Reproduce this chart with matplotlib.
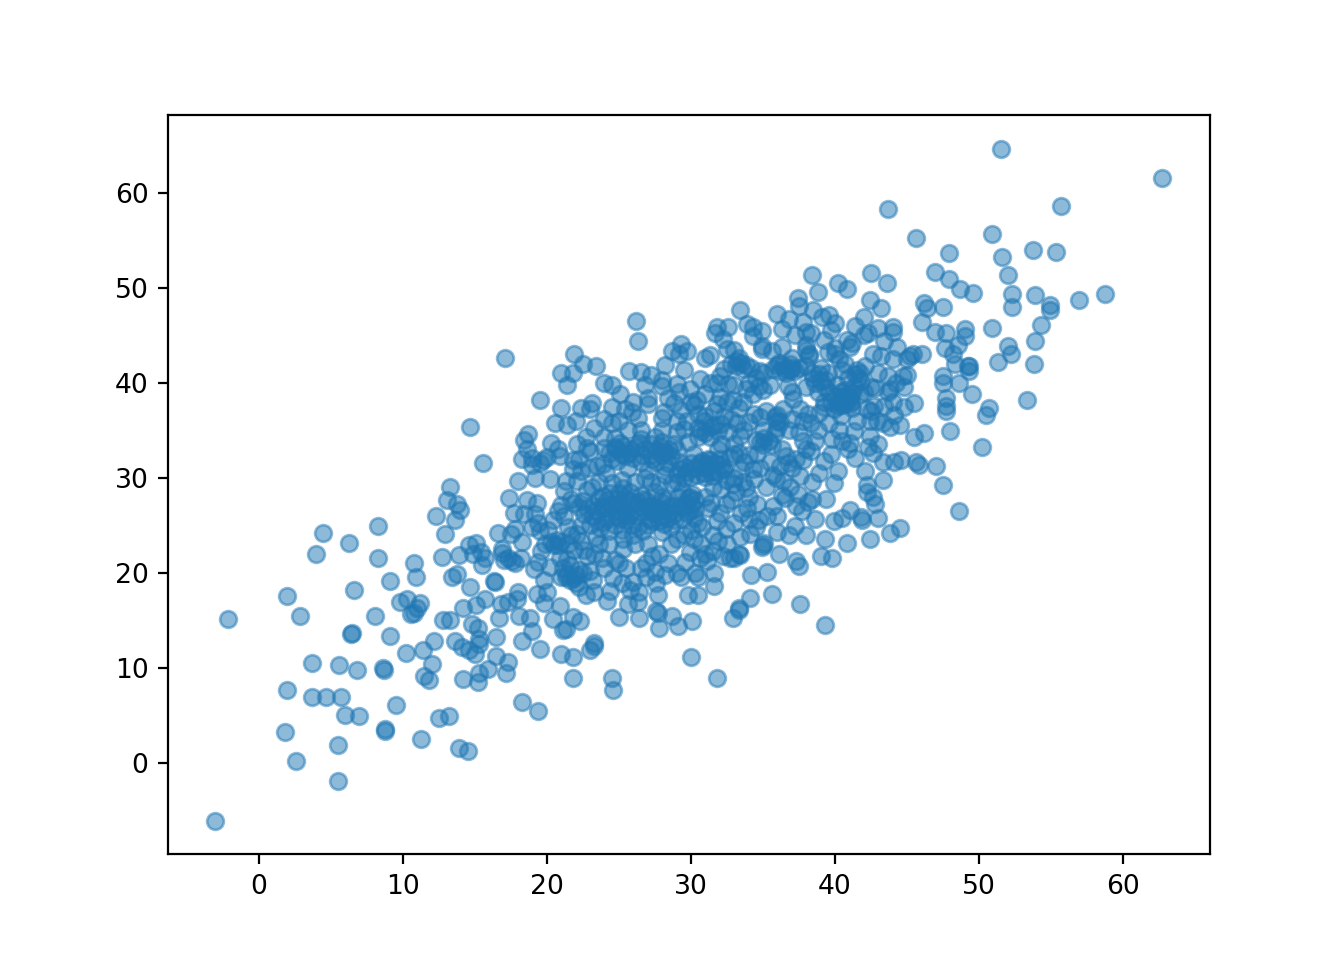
import matplotlib
matplotlib.use("Agg")
import matplotlib.pyplot as plt

low_left = [(-3.0,-6.1),(-2.1,15.1),(1.8,3.2),(2.0,17.6),(2.0,7.7),(2.6,0.2),(2.9,15.4),(3.7,10.5),(3.7,6.9),(4.0,22.0),(4.5,24.2),(4.7,6.9),(5.5,1.9),(5.5,-1.9),(5.6,10.3),(5.7,6.9),(6.0,5.0),(6.3,23.1),(6.4,13.6),(6.5,13.7),(6.6,18.2),(6.8,9.8),(7.0,4.9),(8.1,15.4),(8.3,24.9),(8.3,21.6),(8.6,10.0),(8.7,9.8),(8.8,3.6),(8.8,3.4),(9.1,19.1),(9.1,13.3),(9.5,6.1),(9.8,16.9),(10.2,11.6),(10.3,17.2),(10.6,15.7),(10.8,15.8),(10.8,21.0),(10.9,19.6),(11.0,16.3),(11.2,16.8),(11.3,2.5),(11.4,11.9),(11.5,9.1),(11.8,8.7),(12.0,10.4),(12.2,12.8),(12.3,26.0),(12.5,4.7),(12.7,21.7),(12.8,15.0),(12.9,24.1),(13.1,27.7),(13.2,4.9),(13.3,29.0),(13.3,15.0),(13.4,19.5),(13.6,25.5),(13.6,12.8),(13.8,27.2),(13.8,19.9),(13.9,21.9),(13.9,1.6),(14.0,26.6),(14.1,12.2),(14.2,16.3),(14.2,8.8),(14.5,1.2),(14.6,22.9),(14.6,11.9),(14.7,35.3),(14.7,18.5),(14.8,14.6),(14.9,22.0),(15.0,11.4),(15.1,16.6),(15.1,23.1),(15.2,8.5),(15.2,14.2),(15.3,13.0),(15.3,12.5),(15.3,9.4),(15.4,22.2),(15.5,20.8),(15.6,31.5),(15.7,21.5),(15.7,17.2),(15.9,9.9)]

left_mid = [(16.3,19.1),(16.4,19.0),(16.5,11.2),(16.5,13.2),(16.6,24.2),(16.7,15.2),(16.8,16.7),(16.9,22.1),(17.0,21.3),(17.1,42.6),(17.2,9.4),(17.3,10.6),(17.3,16.9),(17.4,27.9),(17.5,24.1),(17.6,21.2),(17.7,26.3),(17.8,24.6),(17.9,17.2),(18.0,29.7),(18.0,18.0),(18.1,15.4),(18.2,21.5),(18.3,12.8),(18.3,6.4),(18.4,26.2),(18.3,32.0),(18.4,34.0),(18.6,33.0),(18.6,27.6),(18.7,34.6),(18.8,15.2),(19.0,32.1),(19.0,31.3),(19.0,13.9),(19.1,20.4),(19.2,26.2),(19.3,27.3),(19.3,17.8),(19.4,5.5),(19.5,12.0),(19.5,38.2),(19.6,22.3),(19.7,31.9),(19.8,19.2),(19.8,16.8),(20.0,18.0)]

band_20_25 = [(20.1,24.5),(20.2,29.9),(20.3,33.6),(20.4,15.1),(20.5,22.9),(20.6,35.8),(20.7,23.4),(20.8,33.0),(20.9,16.5),(20.9,32.3),(21.0,41.0),(21.0,37.3),(21.0,27.1),(21.0,23.2),(21.0,19.6),(21.0,11.4),(21.1,14.0),(21.2,26.0),(21.3,19.5),(21.3,14.1),(21.4,35.5),(21.4,39.7),(21.5,23.0),(21.6,20.8),(21.6,19.2),(21.7,27.8),(21.7,24.0),(21.8,31.9),(21.8,41.0),(21.8,30.9),(21.8,15.3),(21.8,11.1),(21.8,8.9),(21.9,43.0),(21.9,27.3),(22.0,19.8),(22.0,18.9),(22.1,33.5),(22.1,29.6),(22.1,24.1),(22.2,20.3),(22.3,14.9),(22.5,42.0),(22.6,26.2),(22.6,22.4),(22.7,34.3),(22.7,17.7),(22.8,33.1),(22.8,28.7),(22.8,21.8),(23.0,37.2),(23.0,25.0),(23.0,20.2),(23.0,11.9),(23.1,37.9),(23.1,29.0),(23.2,27.0),(23.2,26.0),(23.3,22.0),(23.3,18.0),(23.3,12.6),(23.3,12.3),(23.4,41.8),(23.4,26.5),(23.5,31.2),(23.6,29.5),(23.7,24.7),(23.8,27.0),(23.9,25.3),(24.0,40.0),(24.0,36.2),(24.1,30.5),(24.2,17.0),(24.2,27.7),(24.3,23.0),(24.4,18.1),(24.5,39.7),(24.5,8.9),(24.6,7.7),(24.7,34.2),(24.8,33.0),(24.9,26.0),(25.0,21.0),(25.0,27.2),(25.0,15.3),(25.1,38.8),(25.2,32.5),(25.3,23.6),(25.4,37.2),(25.4,28.0),(25.5,25.5),(25.6,16.7),(25.7,41.2),(25.8,33.0),(25.9,36.9)]

band_26_30 = [(26.0,26.5),(26.0,19.0),(26.1,29.5),(26.1,23.0),(26.2,46.5),(26.3,44.4),(26.3,27.4),(26.3,16.9),(26.4,18.0),(26.4,15.2),(26.5,41.1),(26.5,35.0),(26.6,32.4),(26.7,27.8),(26.8,39.7),(26.9,21.0),(27.0,37.8),(27.1,25.6),(27.2,33.5),(27.3,32.0),(27.4,26.3),(27.5,20.1),(27.6,16.0),(27.7,17.7),(27.7,15.8),(27.8,14.2),(27.8,22.0),(27.9,26.7),(28.0,36.3),(28.0,39.6),(28.1,36.9),(28.2,41.9),(28.2,32.7),(28.4,25.8),(28.5,33.0),(28.6,23.0),(28.7,43.3),(28.7,29.4),(28.7,15.4),(28.8,37.9),(28.9,27.0),(29.0,30.4),(29.1,14.4),(29.2,43.0),(29.3,44.1),(29.3,37.1),(29.3,19.5),(29.5,41.3),(29.5,35.1),(29.6,31.1),(29.7,43.3),(29.8,27.9),(29.8,17.7),(29.9,26.5),(30.0,24.5),(30.0,11.1),(30.1,14.9),(30.2,37.6),(30.3,27.7),(30.3,20.0),(30.4,30.3),(30.5,17.7),(30.6,40.4),(30.7,34.9),(30.7,23.0)]

band_31_35 = [(31.0,42.6),(31.0,36.5),(31.0,31.0),(31.1,21.2),(31.2,26.8),(31.3,42.9),(31.3,40.0),(31.4,35.3),(31.5,29.0),(31.6,18.6),(31.6,20.0),(31.7,45.2),(31.8,45.9),(31.8,8.9),(32.0,38.5),(32.1,33.5),(32.2,30.8),(32.3,41.4),(32.4,24.6),(32.6,45.8),(32.6,39.9),(32.7,21.5),(32.8,36.2),(32.9,15.2),(33.0,43.4),(33.0,32.5),(33.1,28.5),(33.2,42.3),(33.3,16.1),(33.3,16.3),(33.4,47.6),(33.4,21.9),(33.5,42.1),(33.6,38.0),(33.6,29.5),(33.8,41.9),(33.9,46.2),(34.0,40.0),(34.1,17.3),(34.1,24.1),(34.2,19.8),(34.3,45.8),(34.3,44.9),(34.4,36.7),(34.5,34.0),(34.6,27.2),(34.7,25.5),(34.8,41.2),(34.9,45.4),(34.9,43.5),(34.9,22.7),(35.0,39.2),(35.0,33.4),(35.1,23.1),(35.3,20.1),(35.4,33.9),(35.5,39.7),(35.6,17.8),(35.7,30.3)]

band_36_40 = [(36.0,47.2),(36.0,41.9),(36.0,36.0),(36.0,24.3),(36.1,22.0),(36.2,41.2),(36.3,45.6),(36.4,37.2),(36.5,27.9),(36.6,32.3),(36.8,46.7),(36.8,24.0),(36.9,41.3),(37.0,42.6),(37.1,38.3),(37.2,45.0),(37.2,24.9),(37.3,21.2),(37.4,48.9),(37.4,28.3),(37.5,48.1),(37.5,41.5),(37.5,20.7),(37.6,16.7),(37.7,26.5),(37.8,33.9),(38.0,45.3),(38.0,39.5),(38.0,33.0),(38.0,24.0),(38.1,36.7),(38.2,43.0),(38.3,45.2),(38.3,35.8),(38.4,51.3),(38.4,27.8),(38.5,47.6),(38.6,33.9),(38.6,25.7),(38.8,49.5),(38.9,30.5),(39.0,21.8),(39.1,46.9),(39.2,38.0),(39.3,14.5),(39.3,23.5),(39.4,27.8),(39.5,41.0),(39.6,47.1),(39.7,45.5),(39.8,21.6),(39.9,29.4),(39.9,25.4),(40.0,43.0),(40.1,39.7),(40.2,50.5),(40.2,30.7),(40.4,36.5),(40.5,33.9),(40.5,25.8),(40.8,49.9),(40.8,44.5),(40.8,38.0),(40.8,23.1),(41.0,26.6)]

band_41_46 = [(41.0,43.8),(41.2,44.2),(41.2,37.3),(41.3,34.9),(41.4,32.1),(41.5,41.3),(41.7,38.8),(41.8,40.2),(41.8,25.9),(41.9,25.5),(42.0,46.9),(42.0,45.0),(42.1,41.8),(42.1,30.7),(42.2,29.2),(42.2,28.5),(42.3,45.2),(42.4,48.7),(42.4,36.0),(42.4,34.4),(42.4,23.6),(42.5,51.5),(42.5,37.0),(42.6,32.6),(42.6,28.0),(42.7,37.5),(42.8,39.4),(42.8,27.2),(43.0,45.7),(43.0,25.8),(43.2,47.9),(43.2,42.8),(43.3,29.8),(43.3,31.6),(43.6,50.5),(43.7,58.3),(43.7,40.7),(43.7,39.0),(43.8,35.3),(43.8,24.2),(44.0,45.3),(44.0,45.9),(44.0,42.5),(44.1,36.6),(44.1,31.7),(44.2,40.0),(44.3,43.7),(44.5,24.7),(44.5,35.5),(44.6,31.9),(44.7,40.7),(44.8,37.4),(45.0,42.5),(45.2,42.8),(45.4,43.0),(45.5,37.9),(45.5,34.3),(45.6,31.6),(45.6,55.2),(45.8,31.3),(46.0,43.0),(46.0,46.4),(46.2,48.4),(46.2,34.7),(46.4,47.8)]

upper_right = [(46.9,51.6),(46.9,45.3),(47.0,31.2),(47.5,40.7),(47.5,40.0),(47.5,29.2),(47.5,48.0),(47.6,43.6),(47.7,45.2),(47.7,38.4),(47.7,37.5),(47.7,37.0),(47.9,53.6),(47.9,50.9),(48.0,34.9),(48.2,43.0),(48.3,42.0),(48.5,44.0),(48.6,40.0),(48.6,26.5),(48.7,49.8),(49.0,44.9),(49.0,45.6),(49.2,41.8),(49.3,41.8),(49.3,41.2),(49.5,38.8),(49.6,49.4),(50.2,33.2),(50.5,36.6),(50.7,37.3),(50.9,55.6),(50.9,45.7),(51.3,42.2),(51.5,64.6),(51.6,53.2),(52.0,43.9),(52.0,51.3),(52.3,49.3),(52.3,48.0),(52.2,43.0),(53.3,38.2),(53.7,54.0),(53.8,42.0),(53.9,44.4),(53.9,49.2),(54.3,46.1),(54.9,48.2),(54.9,47.6),(55.3,53.7),(55.7,58.6),(56.9,48.7),(58.7,49.3),(62.7,61.5)]

core_low = [(23.5,25.5),(23.9,28.1),(24.1,26.4),(24.5,27.1),(24.7,25.0),(25.0,28.4),(25.2,26.8),(25.6,27.6),(25.9,25.0),(26.2,26.0),(26.5,28.2),(26.8,26.5),(27.0,25.0),(27.3,27.0),(27.5,28.5),(27.8,25.4),(28.0,26.0),(28.3,27.6),(28.6,24.8),(28.9,25.5),(29.4,28.6),(29.7,26.3),(30.1,28.3),(30.3,26.7),(30.5,25.2),(26.0,24.0),(24.3,24.4),(25.3,22.5),(27.0,23.0),(29.0,23.5),(30.8,24.8),(31.5,24.0),(32.0,26.3),(32.8,27.7),(33.5,26.3),(34.0,28.0),(28.0,28.0),(29.5,24.0)]

core_mid = [(24.3,32.6),(24.7,33.2),(25.1,33.7),(25.4,32.3),(25.6,31.0),(26.2,33.2),(26.5,31.6),(27.0,30.8),(27.6,32.9),(27.9,33.2),(28.0,32.4),(28.4,31.5),(28.8,33.5),(29.0,29.5),(29.2,31.7),(29.5,30.0),(29.8,33.8),(30.0,31.5),(30.2,32.5),(30.5,34.3),(30.8,31.8),(31.0,30.1),(31.2,32.0),(31.4,30.7),(31.7,31.5),(31.9,33.0),(32.1,31.3),(32.4,29.8),(32.6,34.8),(33.0,30.0),(33.3,32.6),(33.7,31.7),(34.0,32.4),(30.9,36.0),(30.5,35.2),(31.6,37.0),(31.8,37.8),(32.3,36.5),(32.9,38.2),(33.3,37.3),(33.8,39.3),(34.3,38.8),(34.7,39.6),(35.2,37.0),(35.8,34.7),(36.0,35.2),(36.3,33.0),(36.7,31.5),(37.0,31.0),(37.3,32.0),(34.8,31.0),(35.2,29.0),(35.7,27.0),(36.0,26.0),(36.3,28.2),(36.9,29.0),(37.3,27.0),(38.1,27.4)]

core_high = [(38.5,40.5),(38.8,39.0),(39.0,41.5),(39.3,39.5),(39.4,40.3),(39.7,38.0),(39.9,37.2),(40.2,37.5),(40.4,39.0),(40.5,38.5),(40.6,37.9),(40.7,39.2),(41.0,38.5),(41.1,38.0),(40.5,41.3),(40.0,43.6),(40.3,42.5),(40.7,42.0),(40.9,40.5),(41.3,39.5),(39.5,43.2),(38.0,43.4),(38.2,42.8),(38.0,41.7),(37.0,41.5),(36.5,41.4),(37.2,41.2),(36.7,39.6),(37.0,39.0),(38.0,44.0),(42.5,39.5),(43.0,41.0),(44.0,38.0),(43.8,39.3),(43.3,35.8)]

fill_left = [(20.0,32.2),(19.5,31.5),(19.2,30.0),(19.4,25.2),(19.5,24.4),(19.9,23.0),(20.3,23.2),(20.8,22.9),(21.1,20.5),(21.4,19.9),(21.9,19.4),(22.2,18.5),(16.9,22.5),(17.3,21.5),(17.8,21.0),(18.3,23.2),(19.0,24.8),(19.4,21.1),(21.4,21.4),(24.0,20.5),(24.7,21.3),(25.5,20.5),(26.5,20.5),(27.3,21.8),(28.2,19.8),(29.0,20.0),(29.6,21.1),(30.5,19.5),(31.0,22.0),(31.5,22.3),(32.2,21.8),(33.0,21.5),(33.3,22.0),(33.4,23.8),(34.0,25.7),(34.5,24.8),(35.0,22.9),(35.3,26.0),(22.0,36.0),(22.9,31.0),(23.0,32.8),(24.0,34.3),(24.5,35.8),(25.0,36.0),(26.0,38.0),(27.5,34.3),(28.0,35.0),(29.0,34.8),(29.0,36.0),(30.0,38.0),(30.4,38.2),(28.4,38.4),(27.0,38.4)]

blob_low = [(23.6,27.9),(24.0,26.8),(24.2,25.6),(24.4,28.4),(24.8,26.5),(24.9,27.8),(25.1,25.6),(25.3,28.9),(25.5,26.4),(25.7,26.1),(25.8,28.5),(26.0,27.3),(26.3,24.8),(26.6,26.9),(26.9,27.6),(27.1,26.9),(27.3,25.4),(27.6,26.7),(27.9,27.4),(28.1,25.1),(28.4,26.4),(28.6,27.0),(28.8,26.2),(29.1,28.0),(29.3,26.9),(29.6,27.2),(29.9,28.0),(30.0,27.1),(29.4,25.6),(28.0,24.3),(26.7,24.4),(25.2,24.5),(22.8,26.8),(22.5,27.5),(22.4,25.0),(23.4,23.8),(23.6,23.0),(30.2,23.5),(31.8,25.4),(32.4,27.2),(33.0,25.2),(33.9,26.8)]

blob_mid = [(24.0,33.1),(24.5,32.0),(24.9,31.8),(25.3,33.3),(25.7,32.6),(26.0,32.1),(26.4,33.6),(26.8,33.0),(27.2,32.4),(27.6,31.6),(28.0,33.8),(28.2,31.1),(28.6,32.3),(29.0,32.9),(29.3,30.9),(29.7,30.6),(30.0,30.1),(30.3,31.0),(30.6,31.5),(30.9,30.5),(31.1,31.4),(31.3,31.9),(31.5,30.2),(31.8,30.6),(32.0,32.0),(32.3,31.0),(32.7,32.2),(33.0,33.5),(33.4,34.4),(33.7,35.0),(31.0,34.7),(31.3,34.3),(31.6,35.5),(31.9,34.9),(32.1,35.6),(30.5,36.7),(29.7,36.0),(34.8,33.8),(35.1,34.2),(35.6,33.4),(35.0,35.0),(36.0,36.6),(35.8,36.4),(36.2,35.9),(33.5,30.8),(34.4,29.9),(37.8,31.9),(38.3,32.8)]

blob_high = [(32.8,42.0),(33.1,41.7),(33.3,42.6),(33.6,41.4),(35.7,41.4),(36.1,42.1),(36.4,41.9),(36.6,41.0),(36.9,42.0),(38.4,41.0),(38.6,40.0),(38.9,40.9),(39.0,40.2),(39.2,37.4),(39.6,39.0),(40.0,38.6),(40.3,38.0),(40.5,37.6),(40.8,38.7),(41.0,37.8),(41.2,38.9),(41.4,40.9),(41.6,40.5),(41.7,41.0),(42.0,39.0),(42.2,37.2),(35.0,41.0),(34.2,41.5),(34.5,40.5),(32.0,40.7),(31.8,40.0),(37.8,36.0),(38.9,36.8),(39.6,35.8),(40.3,35.0),(41.0,33.7)]

gap_fill = [(20.4,25.5),(20.8,26.5),(21.2,28.6),(21.5,24.8),(22.2,26.9),(21.9,22.4),(22.4,23.3),(20.9,21.5),(20.2,20.6),(22.5,20.0),(23.2,19.2),(23.8,21.5),(24.6,19.4),(25.2,18.9),(25.8,18.2),(26.9,19.5),(27.6,18.9),(28.4,21.0),(29.9,22.2),(30.6,21.5),(31.9,23.3),(32.5,23.0),(30.2,25.8),(31.0,28.0),(31.4,27.3),(32.1,28.8),(32.9,29.3),(33.8,28.9),(34.3,30.9),(34.6,32.5),(35.5,31.6),(35.9,30.0),(36.2,31.2),(36.4,29.6),(37.6,30.2),(38.4,29.5),(39.2,31.8),(39.7,32.5),(39.8,34.1),(40.9,33.0),(41.5,36.0),(42.3,33.2),(43.0,33.5),(43.4,37.5),(42.9,36.0),(37.6,37.2),(37.0,36.2),(36.8,35.0),(37.5,34.8),(38.8,35.0),(34.0,35.9),(34.8,36.4),(33.2,35.8),(32.5,38.0),(33.0,39.8),(31.0,38.8),(29.9,39.3),(29.2,39.0),(28.0,40.3),(27.2,40.8),(26.3,36.3),(25.6,35.0),(26.5,34.1),(23.3,35.2),(22.4,37.3),(24.5,37.4),(22.2,32.0),(21.3,29.6),(22.4,30.7),(27.2,29.5),(28.2,30.3),(27.8,29.2),(26.8,30.0),(25.2,29.8),(24.5,29.4),(23.9,31.4),(34.9,43.9),(35.6,43.3),(36.3,43.7),(37.8,46.4),(39.2,44.5),(41.4,46.0),(40.0,46.3),(43.4,44.4),(42.6,43.0),(45.0,40.8),(44.8,39.5),(29.0,39.9),(32.5,43.5),(32.2,44.6)]

groups = [low_left, left_mid, band_20_25, band_26_30, band_31_35, band_36_40,
          band_41_46, upper_right, core_low, core_mid, core_high, fill_left,
          blob_low, blob_mid, blob_high, gap_fill]
x = [p[0] for g in groups for p in g]
y = [p[1] for g in groups for p in g]

plt.rcParams["xtick.labelsize"] = 9.6
plt.rcParams["ytick.labelsize"] = 9.6
fig, ax = plt.subplots(figsize=(6.72, 4.8), dpi=200)
ax.scatter(x, y, s=36, linewidths=1, alpha=0.5, color="C0")
fig.savefig("out.png", dpi=200)
